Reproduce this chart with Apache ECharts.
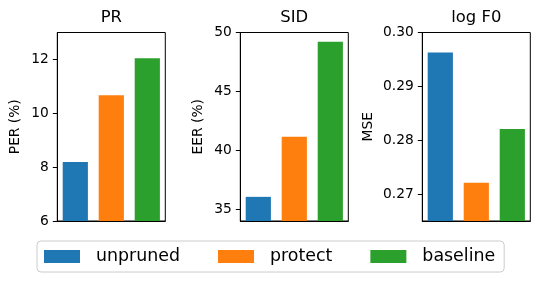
<!DOCTYPE html>
<html>
<head>
<meta charset="utf-8">
<script src="https://cdn.jsdelivr.net/npm/echarts@6/dist/echarts.min.js"></script>
<style>html,body{margin:0;padding:0;background:#fff;}#c{width:540px;height:283px;}</style>
</head>
<body>
<div id="c"></div>
<script>
const categories = ['unpruned', 'protect', 'baseline'];
const colors = ['#1f77b4', '#ff7f0e', '#2ca02c'];
const panelTitles = ['PR', 'SID', 'log F0'];
const axisNames = ['PER (%)', 'EER (%)', 'MSE'];
const prValues = [8.19, 10.67, 12.04];
const sidValues = [36.05, 41.16, 49.22];
const f0Values = [0.2963, 0.2721, 0.2821];
const prTicks = [6, 8, 10, 12];
const sidTicks = [35, 40, 45, 50];
const f0Ticks = [0.27, 0.28, 0.29, 0.30];
const prRange = [6, 13];
const sidRange = [34, 50];
const f0Range = [0.265, 0.30];

const panels = [
  {values: prValues, ticks: prTicks, range: prRange, dec: 0},
  {values: sidValues, ticks: sidTicks, range: sidRange, dec: 0},
  {values: f0Values, ticks: f0Ticks, range: f0Range, dec: 2}
];
const gridLefts = [57.3, 240.3, 422.3];
const nameGaps = [35, 35, 47];
const FONT = 'DejaVu Sans';

const grids = [], xAxes = [], yAxes = [], series = [], titles = [];
panels.forEach((p, gi) => {
  grids.push({left: gridLefts[gi], top: 32.5, width: 108, height: 188.5, show: true,
    borderColor: '#000', borderWidth: 1, backgroundColor: 'transparent', containLabel: false});
  titles.push({text: panelTitles[gi], left: gridLefts[gi] + 54, top: 10, textAlign: 'center', padding: 0,
    textStyle: {fontFamily: FONT, fontSize: 16.4, fontWeight: 'normal', color: '#000'}});
  xAxes.push({type: 'category', gridIndex: gi, data: categories, boundaryGap: true,
    axisLine: {show: true, lineStyle: {color: '#000', width: 1}}, axisTick: {show: false},
    axisLabel: {show: false}, splitLine: {show: false}});
  yAxes.push({type: 'value', gridIndex: gi, min: p.range[0], max: p.range[1],
    name: axisNames[gi], nameLocation: 'middle', nameGap: nameGaps[gi],
    nameTextStyle: {fontFamily: FONT, fontSize: 13.8, color: '#000'},
    axisLine: {show: true, lineStyle: {color: '#000', width: 1}},
    axisTick: {show: true, length: 4.5, customValues: p.ticks, lineStyle: {color: '#000'}},
    axisLabel: {show: true, margin: 8.5, customValues: p.ticks, fontFamily: FONT, fontSize: 13.8, color: '#000',
      formatter: v => Number(v).toFixed(p.dec)},
    splitLine: {show: false}});
  categories.forEach((cat, si) => {
    series.push({type: 'bar', name: cat, xAxisIndex: gi, yAxisIndex: gi,
      barWidth: '70%', barGap: '-100%',
      itemStyle: {color: colors[si]},
      data: categories.map((c, k) => k === si ? p.values[k] : '-'),
      animation: false});
  });
});

const chart = echarts.init(document.getElementById('c'), null, {renderer: 'canvas'});
chart.setOption({
  animation: false,
  color: colors,
  title: titles,
  grid: grids,
  xAxis: xAxes,
  yAxis: yAxes,
  legend: {
    data: categories, left: 37, top: 241, orient: 'horizontal',
    icon: 'rect', itemWidth: 36, itemHeight: 13, itemGap: 38,
    padding: [7, 9, 7, 7], borderColor: '#cccccc', borderWidth: 1, borderRadius: 4,
    backgroundColor: '#fff',
    textStyle: {fontFamily: FONT, fontSize: 17.4, color: '#000', padding: [0, 0, 0, 11]}
  },
  series: series
});
</script>
</body>
</html>
